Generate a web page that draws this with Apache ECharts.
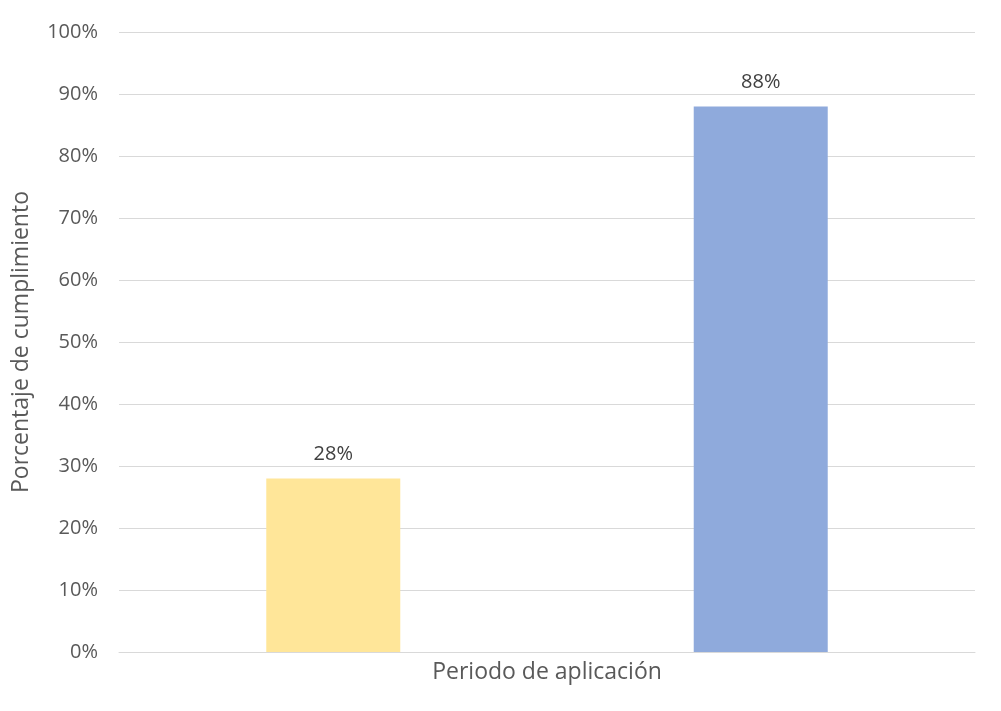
<!DOCTYPE html>
<html>
<head>
<meta charset="utf-8">
<script src="https://cdn.jsdelivr.net/npm/echarts@6/dist/echarts.min.js"></script>
<style>html,body{margin:0;padding:0;background:#fff}#c{width:1001px;height:711px}</style>
</head>
<body>
<div id="c"></div>
<script>
var categories = ['Periodo de aplicación'];
var seriesNames = ['Periodo 1', 'Periodo 2'];
var valuesA = [28];
var valuesB = [88];
var yTicks = [0, 10, 20, 30, 40, 50, 60, 70, 80, 90, 100];
var yAxisName = 'Porcentaje de cumplimiento';

var font = 'Open Sans';
var txt = '#595959';
var chart = echarts.init(document.getElementById('c'));
chart.setOption({
  animation: false,
  grid: {left: 119, right: 26, top: 32, bottom: 59},
  xAxis: {
    type: 'category',
    data: categories,
    axisLine: {lineStyle: {color: '#d9d9d9', width: 1}},
    axisTick: {show: false},
    axisLabel: {color: txt, fontFamily: font, fontSize: 23, margin: 9}
  },
  yAxis: {
    type: 'value',
    min: yTicks[0],
    max: yTicks[yTicks.length - 1],
    interval: 10,
    name: yAxisName,
    nameLocation: 'middle',
    nameGap: 86,
    nameTextStyle: {color: txt, fontFamily: font, fontSize: 23},
    axisLine: {show: false},
    axisTick: {show: false},
    splitLine: {lineStyle: {color: '#d9d9d9', width: 1}},
    axisLabel: {color: txt, fontFamily: font, fontSize: 20, margin: 21, formatter: '{value}%'}
  },
  series: [
    {
      name: seriesNames[0], type: 'bar', data: valuesA,
      barWidth: 134, barGap: '219%',
      itemStyle: {color: '#FFE699'},
      label: {show: true, position: 'top', distance: 14, formatter: '{c}%', color: '#404040', fontFamily: font, fontSize: 20}
    },
    {
      name: seriesNames[1], type: 'bar', data: valuesB,
      barWidth: 134,
      itemStyle: {color: '#8FAADC'},
      label: {show: true, position: 'top', distance: 14, formatter: '{c}%', color: '#404040', fontFamily: font, fontSize: 20}
    }
  ]
});
</script>
</body>
</html>
